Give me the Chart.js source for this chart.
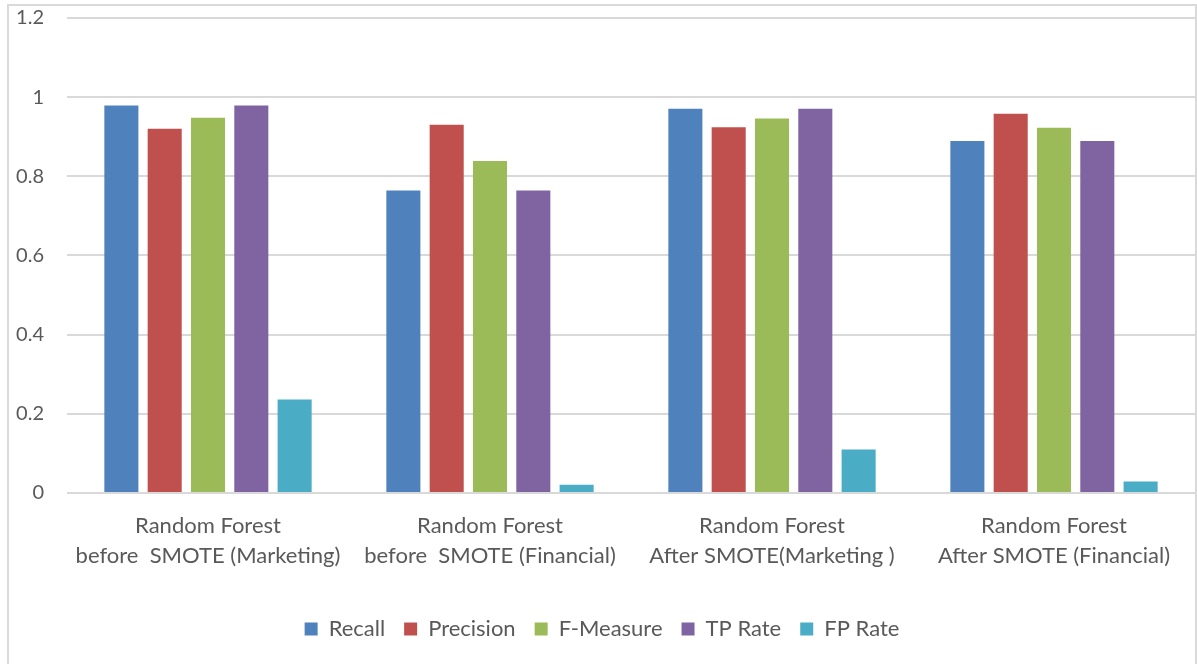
<!DOCTYPE html>
<html>
<head>
<meta charset="utf-8">
<script src="https://cdn.jsdelivr.net/npm/chart.js@4/dist/chart.umd.min.js"></script>
<style>
  html, body { margin: 0; padding: 0; background: #fff; overflow: hidden; }
  #frame {
    position: absolute; left: 7px; top: 4px;
    width: 1186px; height: 700px;
    border: 2px solid #d9d9d9;
  }
  #chart { display: block; margin-top: -23px; }
</style>
</head>
<body>
<div id="frame"><canvas id="chart" width="1186" height="679"></canvas></div>
<script>
(() => {
  'use strict';

  // ── Data ────────────────────────────────────────────────────────────────────

  const CATEGORIES = [
    ['Random Forest', 'before  SMOTE (Marketing)'],
    ['Random Forest', 'before  SMOTE (Financial)'],
    ['Random Forest', 'After SMOTE(Marketing )'],
    ['Random Forest', 'After SMOTE (Financial)'],
  ];

  const RECALL     = [0.979, 0.764, 0.971, 0.889];
  const PRECISION  = [0.920, 0.930, 0.924, 0.958];
  const F_MEASURE  = [0.948, 0.839, 0.946, 0.923];
  const TP_RATE    = [0.979, 0.764, 0.971, 0.889];
  const FP_RATE    = [0.236, 0.021, 0.110, 0.029];

  const Y_TICKS = [0, 0.2, 0.4, 0.6, 0.8, 1, 1.2];

  const FONT = "Lato, 'Open Sans', 'Noto Sans', sans-serif";
  const TEXT = '#595959';
  const GRID = '#d9d9d9';

  const series = [
    { label: 'Recall',    data: RECALL,    color: '#4F81BD' },
    { label: 'Precision', data: PRECISION, color: '#C0504D' },
    { label: 'F-Measure', data: F_MEASURE, color: '#9BBB59' },
    { label: 'TP Rate',   data: TP_RATE,   color: '#8064A2' },
    { label: 'FP Rate',   data: FP_RATE,   color: '#4BACC6' },
  ];

  // ── Chart ───────────────────────────────────────────────────────────────────

  new Chart(document.getElementById('chart').getContext('2d'), {
    type: 'bar',
    data: {
      labels: CATEGORIES,
      datasets: series.map(s => ({
        label: s.label,
        data: s.data,
        backgroundColor: s.color,
        borderWidth: 0,
        categoryPercentage: 0.768,
        barPercentage: 0.786,
      })),
    },
    options: {
      responsive: false,
      animation: false,
      layout: { padding: { top: 0, right: 0, bottom: 12, left: 0 } },
      plugins: {
        legend: {
          position: 'bottom',
          labels: {
            color: TEXT,
            font: { family: FONT, size: 22 },
            boxWidth: 13,
            boxHeight: 13,
            padding: 19,
          },
        },
        tooltip: { enabled: false },
      },
      scales: {
        x: {
          afterFit: scale => { scale.height += 10; },
          grid: { display: false, drawTicks: false },
          border: { display: false },
          ticks: {
            color: TEXT,
            font: { family: FONT, size: 22, lineHeight: 1.364 },
            padding: 18,
            maxRotation: 0,
            autoSkip: false,
          },
        },
        y: {
          min: 0,
          max: 1.2,
          afterFit: scale => { scale.width = 58; },
          afterBuildTicks: scale => { scale.ticks = Y_TICKS.map(v => ({ value: v })); },
          grid: { color: GRID, lineWidth: 2, drawTicks: false },
          border: { display: false },
          ticks: {
            color: TEXT,
            font: { family: FONT, size: 20 },
            padding: 23,
            callback: v => String(Math.round(v * 10) / 10),
          },
        },
      },
    },
  });
})();
</script>
</body>
</html>
